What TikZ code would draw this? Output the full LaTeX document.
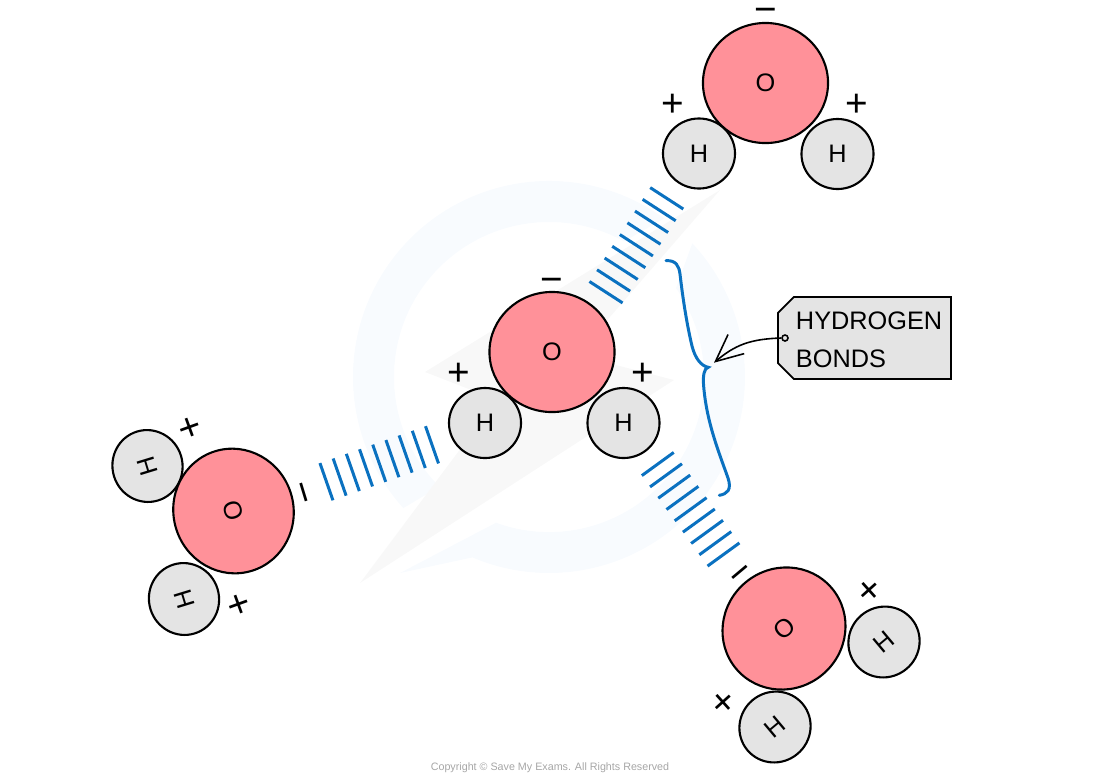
\documentclass[tikz,border=0pt]{standalone}
\usepackage{fontspec}
\setmainfont{Liberation Sans}
\usetikzlibrary{arrows.meta,positioning,shapes.geometric,shapes.misc,decorations.pathreplacing}
\definecolor{oxyred}{HTML}{FF9199}
\definecolor{hydgrey}{HTML}{E4E4E4}
\definecolor{bondblue}{HTML}{0A71C0}
\definecolor{markblue}{HTML}{F8FBFE}
\definecolor{markgrey}{HTML}{F8F8F8}
\tikzset{
  oxygen/.style={draw,shape=ellipse,fill=oxyred,line width=0.6pt,inner sep=0pt,minimum width=1.25cm,minimum height=1.2cm,font=\fontsize{7.2}{8}\selectfont},
  hydrogen/.style={draw,shape=ellipse,fill=hydgrey,line width=0.6pt,inner sep=0pt,minimum width=0.72cm,minimum height=0.7cm,font=\fontsize{7.2}{8}\selectfont},
  charge/.style={inner sep=0pt,text height=7.4pt,text depth=0pt,font=\fontsize{11}{11}\selectfont},
  hbond/.style={draw=bondblue,line width=0.85pt,decorate,decoration={ticks,segment length=0.1397cm,amplitude=0.197cm}},
  bracket/.style={draw=bondblue,line width=0.85pt,line cap=round},
  tagbox/.style={draw,fill=hydgrey,line width=0.5pt,shape=chamfered rectangle,chamfered rectangle corners={north west,south west},chamfered rectangle xsep=0.08cm,chamfered rectangle ysep=0.08cm,minimum width=1.73cm,minimum height=0.82cm,inner sep=0pt,text width=1.37cm,align=left,font=\fontsize{7.2}{10.8}\selectfont},
  tagarrow/.style={line width=0.45pt,-{Straight Barb[length=0.27cm,width=0.25cm]}}
}

\begin{document}
\begin{tikzpicture}[x=0.01cm,y=-0.01cm]
\useasboundingbox (0,0) rectangle (1100,781);

\fill[markblue] (664.2,218.4) arc[start angle=-54,delta angle=-168,radius=196] -- (439.4,486.6) arc[start angle=-225,delta angle=164,radius=155] -- cycle;
\fill[markblue] (692.3,243.3) arc[start angle=-43,delta angle=156,radius=196] -- (400,573) -- (496,522.7) arc[start angle=110,delta angle=-145,radius=155] -- cycle;
\fill[markgrey] (720,190) -- (425,372) -- (497,400) -- (360,583) -- (674,380) -- (577,355) -- cycle;

\node[hydrogen] (h1a) at (699,153.5) {H};
\node[hydrogen] (h1b) at (837.5,154) {H};
\node[oxygen] (o1) at (765.5,83) {O};
\node[charge] (m1) at (766,9.5) {−};
\node[charge] (p1a) at (673,103) {+};
\node[charge] (p1b) at (857,103) {+};

\node[hydrogen] (h2a) at (485,423) {H};
\node[hydrogen] (h2b) at (623.5,423) {H};
\node[oxygen] (o2) at (552,352) {O};
\node[charge] (m2) at (552,279) {−};
\node[charge] (p2a) at (459,372) {+};
\node[charge] (p2b) at (643,372) {+};

\node[hydrogen,rotate=107] (h3a) at (147.5,466) {H};
\node[hydrogen,rotate=107] (h3b) at (184,599) {H};
\node[oxygen,rotate=107] (o3) at (233.5,511) {O};
\node[charge,rotate=107] (m3) at (304,492) {−};
\node[charge,rotate=20] (p3a) at (190,427) {+};
\node[charge,rotate=20] (p3b) at (239,604) {+};

\node[hydrogen,rotate=40] (h4a) at (884,642) {H};
\node[hydrogen,rotate=40] (h4b) at (775,727) {H};
\node[oxygen,rotate=40] (o4) at (784,628.5) {O};
\node[charge,rotate=40] (m4) at (740,572) {−};
\node[charge,rotate=42] (p4a) at (869,590) {+};
\node[charge,rotate=42] (p4b) at (723,702) {+};

\coordinate (b1s) at (606,292.2);
\coordinate (b1e) at (667,197.9);
\coordinate (b2s) at (432,444.8);
\coordinate (b2e) at (325.8,481.9);
\coordinate (b3s) at (657.8,464);
\coordinate (b3e) at (723.7,554.8);
\draw[hbond] (b1s) -- (b1e);
\draw[hbond] (b2s) -- (b2e);
\draw[hbond] (b3s) -- (b3e);

\coordinate (bracetop) at (666,260.7);
\coordinate (bracetip) at (708.3,367.3);
\coordinate (bracebot) at (719.3,495.3);
\draw[bracket] (bracetop) .. controls (676,260) and (679,266) .. (680,274) .. controls (683,300) and (687,325) .. (692,346) .. controls (695,358) and (701,366) .. (bracetip) .. controls (704,368) and (703,376) .. (703.5,384) .. controls (706,420) and (718,450) .. (728,478) .. controls (732,490) and (727,494) .. (bracebot);

\node[tagbox] (tag) at (864.5,338) {\rule{0pt}{6.3pt}HYDROGEN\\BONDS};
\node[draw,shape=circle,line width=0.45pt,inner sep=0pt,minimum size=0.06cm] (pin) at (785,338) {};
\coordinate (tagtip) at (714,362.7);
\draw[tagarrow] (pin.west) .. controls (750,339) and (735,345) .. (tagtip);

\node[text=black!35,font=\fontsize{3.05}{4}\selectfont,inner sep=0pt] (copy) at (550,768) {Copyright © Save My Exams. All Rights Reserved};
\end{tikzpicture}
\end{document}
